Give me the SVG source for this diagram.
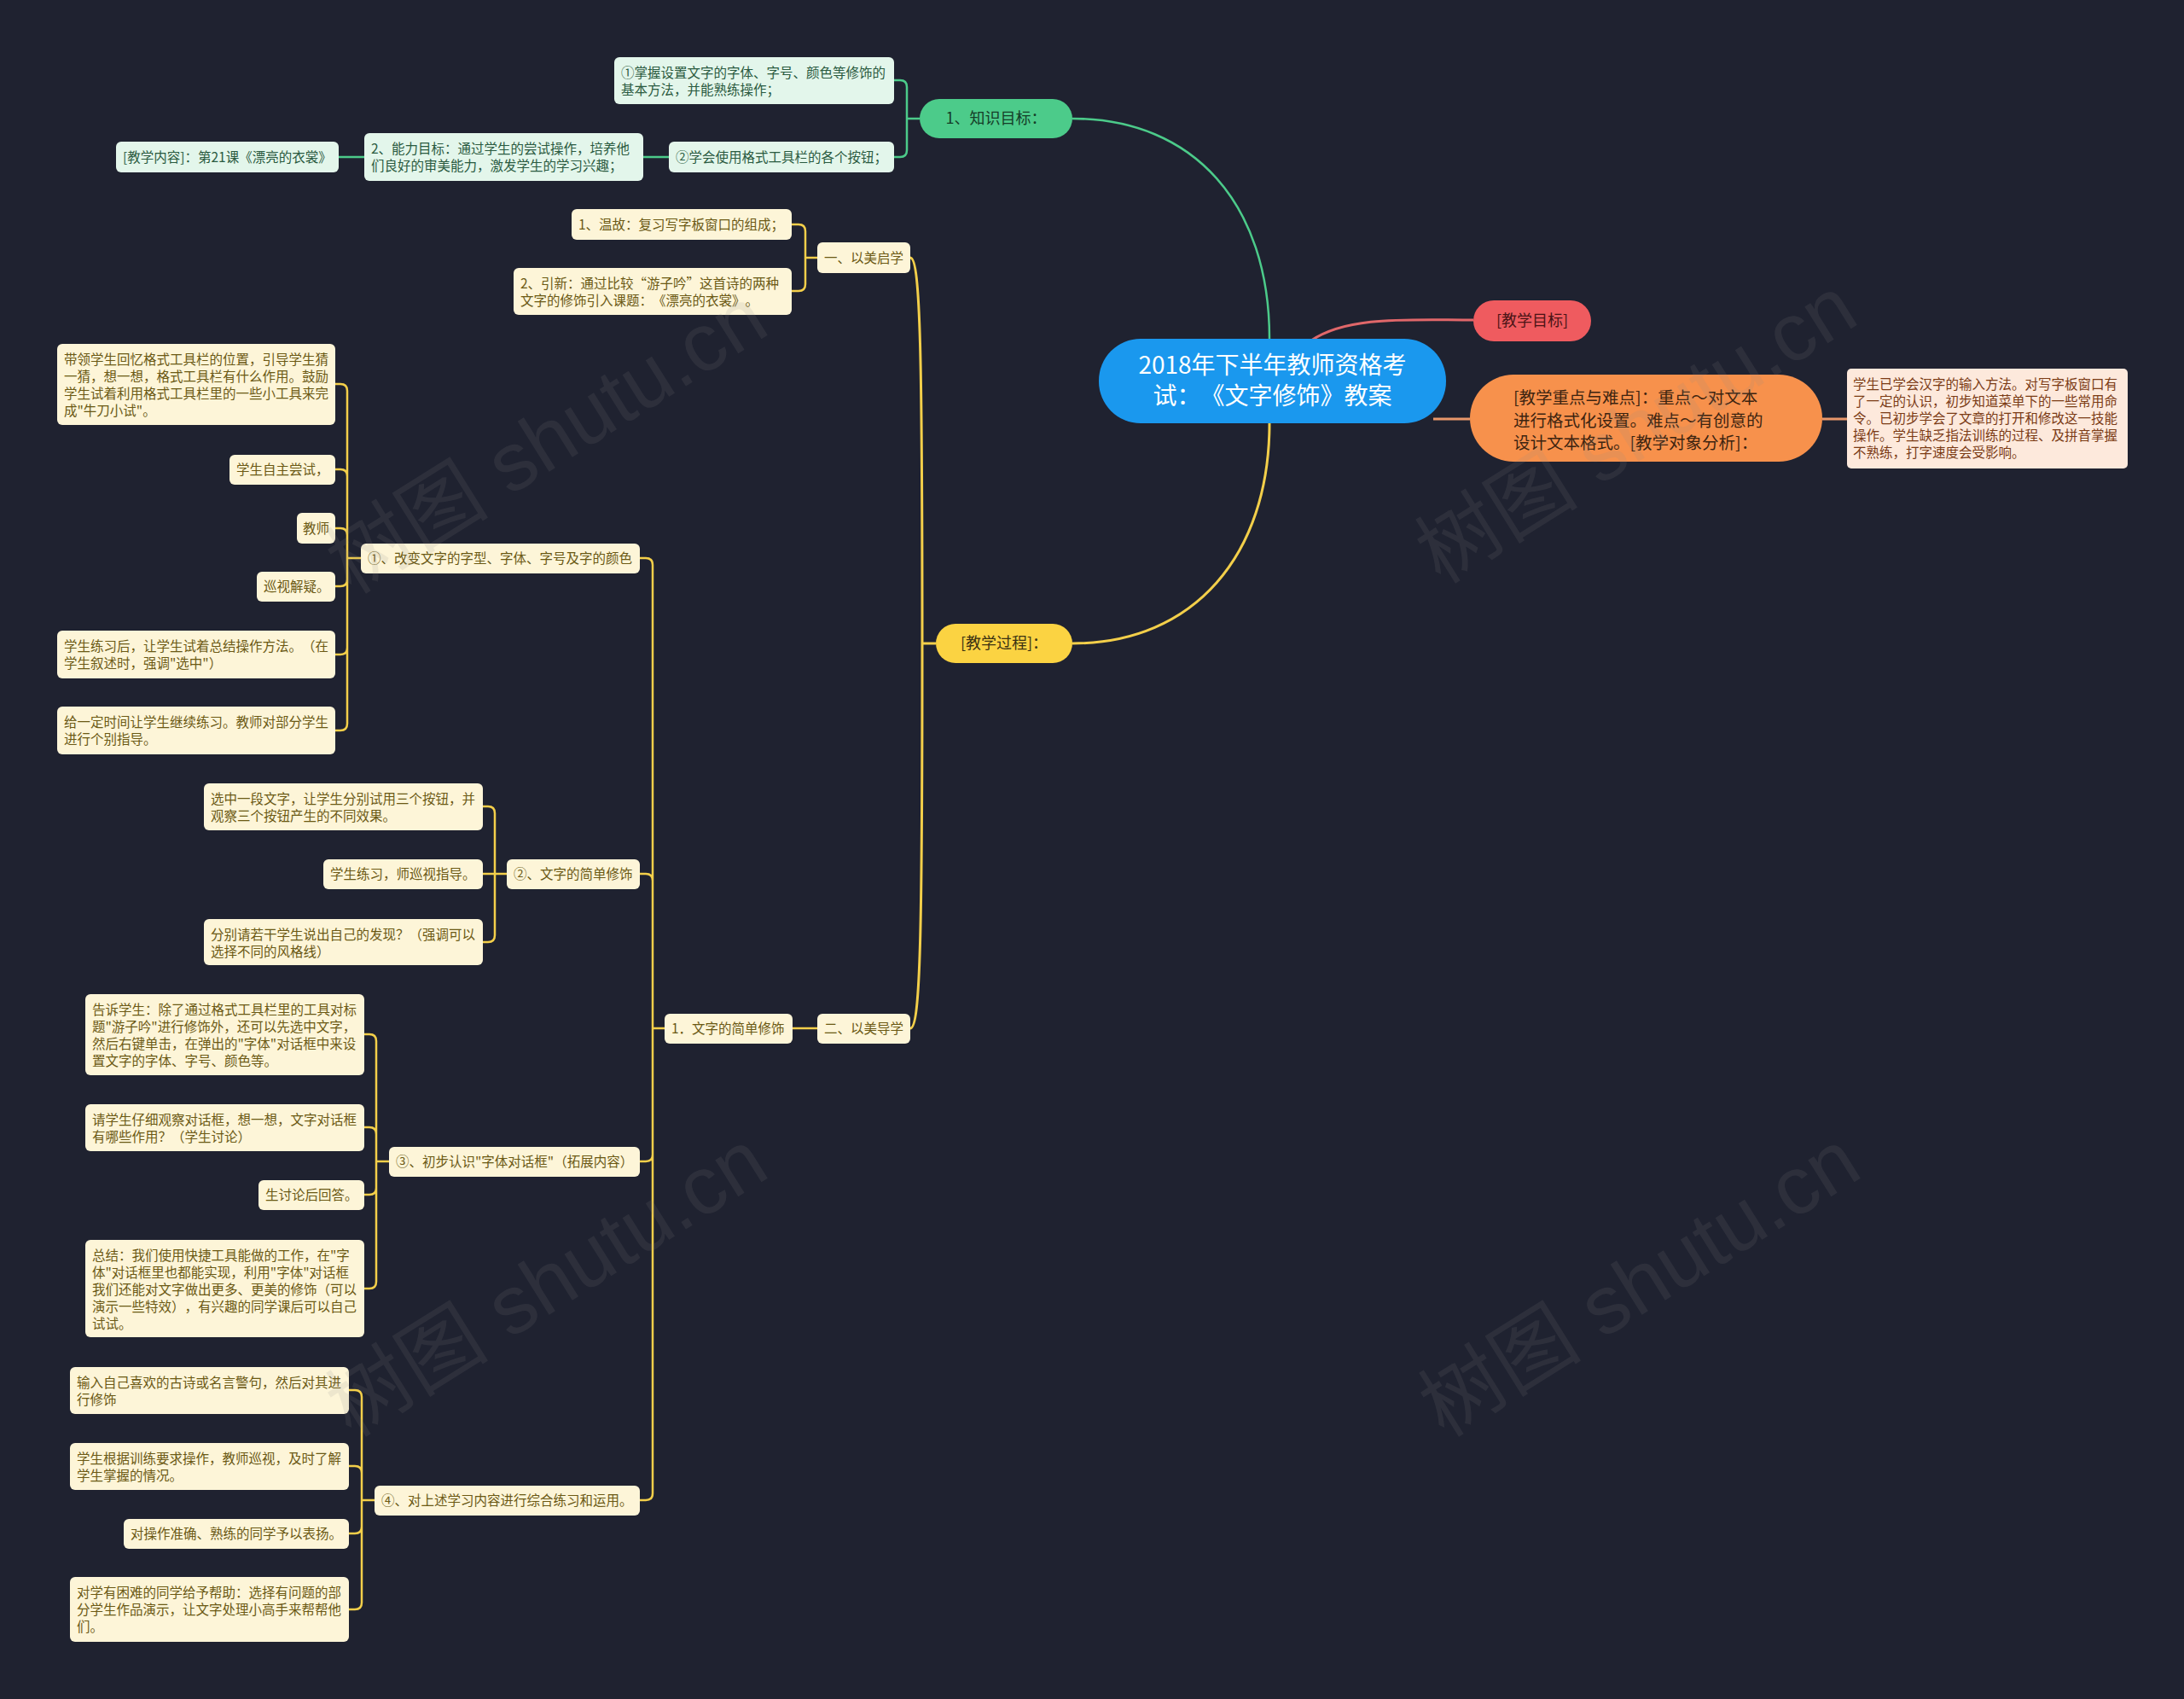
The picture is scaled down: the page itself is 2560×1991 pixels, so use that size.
<svg xmlns="http://www.w3.org/2000/svg" width="2560" height="1991" viewBox="0 0 2560 1991">
<style>
text{font-family:"Noto Sans CJK SC","Liberation Sans",sans-serif;text-spacing-trim:space-all;}
.bg{fill:#1f2230;}
.cy{fill:#fdf5d8;}
.ty{fill:#6b5914;font-size:15.5px;}
.cg{fill:#e3f6eb;}
.tg{fill:#2a5a40;font-size:15.5px;}
.ly{fill:none;stroke:#f3cf4a;stroke-width:2.5;}
.lg{fill:none;stroke:#4ccb8a;stroke-width:2.5;}
.wm{fill:#8a8a8a;opacity:0.13;font-size:96px;font-family:"Liberation Sans","Noto Sans CJK SC",sans-serif;}
</style>
<rect class="bg" x="0" y="0" width="2560" height="1991"/>

<g id="connectors">
<path class="lg" d="M1257,139 C1400,139 1488,240 1488,397"/>
<path d="M1257,754 C1400,754 1488,650 1488,496" fill="none" stroke="#f3cf4a" stroke-width="3"/>
<path d="M1537,399 C1580,370 1650,375 1727,375" fill="none" stroke="#e0676a" stroke-width="3"/>
<path d="M1680,491 L1723,491 M2136,491 L2165,491" fill="none" stroke="#e9976a" stroke-width="3"/>
<path class="lg" d="M1078,139 H1063 M1048,94 H1055 Q1063,94 1063,102 V139 M1048,184 H1055 Q1063,184 1063,176 V139 M784,184 H754 M427,184 H397"/>
<path d="M1097,754 H1081 M1081,754 C1081,420 1079,302 1067,302 M1081,754 C1081,1090 1079,1205 1067,1205" fill="none" stroke="#f3cf4a" stroke-width="3"/>
<path class="ly" d="M958,302 H944 M928,263 H936 Q944,263 944,271 V302 M928,341 H936 Q944,341 944,333 V302"/>
<path class="ly" d="M958,1205 H929"/>
<path class="ly" d="M779,1205 H765 M750,654 H757 Q765,654 765,662 V1205 M750,1024 H757 Q765,1024 765,1032 V1205 M750,1361 H757 Q765,1361 765,1353 V1205 M750,1758 H757 Q765,1758 765,1750 V1205"/>
<path class="ly" d="M423,654 H407 M393,450 H399 Q407,450 407,458 V654 M393,550 H399 Q407,550 407,558 V654 M393,619 H399 Q407,619 407,627 V654 M393,687 H399 Q407,687 407,679 V654 M393,767 H399 Q407,767 407,759 V654 M393,856 H399 Q407,856 407,848 V654"/>
<path class="ly" d="M594,1024 H566 M566,945 H572 Q580,945 580,953 V1024 M566,1104 H572 Q580,1104 580,1096 V1024"/>
<path class="ly" d="M456,1361 H441 M427,1212 H433 Q441,1212 441,1220 V1361 M427,1321 H433 Q441,1321 441,1329 V1361 M427,1400 H433 Q441,1400 441,1392 V1361 M427,1510 H433 Q441,1510 441,1502 V1361"/>
<path class="ly" d="M439,1758 H424 M409,1629 H416 Q424,1629 424,1637 V1758 M409,1718 H416 Q424,1718 424,1726 V1758 M409,1797 H416 Q424,1797 424,1789 V1758 M409,1886 H416 Q424,1886 424,1878 V1758"/>
</g>

<g id="root">
<rect x="1288" y="397" width="407" height="99" rx="49" fill="#1a98ee"/>
<text x="1491.5" y="438" text-anchor="middle" fill="#ffffff" font-size="28">2018年下半年教师资格考</text>
<text x="1491.5" y="474" text-anchor="middle" fill="#ffffff" font-size="28">试：《文字修饰》教案</text>
</g>

<g id="n-mubiao">
<rect x="1727" y="352" width="138" height="48" rx="24" fill="#ef5b5f"/>
<text x="1796" y="382" text-anchor="middle" fill="#4a1416" font-size="18">[教学目标]</text>
</g>

<g id="n-zhongdian">
<rect x="1723" y="439" width="413" height="102" rx="51" fill="#f7914c"/>
<text x="1774" y="473" fill="#3d2410" font-size="19.5">[教学重点与难点]：重点～对文本</text>
<text x="1774" y="500" fill="#3d2410" font-size="19.5">进行格式化设置。难点～有创意的</text>
<text x="1774" y="526" fill="#3d2410" font-size="19.5">设计文本格式。[教学对象分析]：</text>
</g>

<g id="n-duixiang">
<rect x="2165" y="432" width="329" height="117" rx="5" fill="#fde9dc"/>
<text x="2172" y="456" fill="#7b3b15" font-size="15.5">学生已学会汉字的输入方法。对写字板窗口有</text>
<text x="2172" y="476" fill="#7b3b15" font-size="15.5">了一定的认识，初步知道菜单下的一些常用命</text>
<text x="2172" y="496" fill="#7b3b15" font-size="15.5">令。已初步学会了文章的打开和修改这一技能</text>
<text x="2172" y="516" fill="#7b3b15" font-size="15.5">操作。学生缺乏指法训练的过程、及拼音掌握</text>
<text x="2172" y="536" fill="#7b3b15" font-size="15.5">不熟练，打字速度会受影响。</text>
</g>

<g id="n-zhishi">
<rect x="1078" y="116" width="179" height="46" rx="23" fill="#4ccb8a"/>
<text x="1167.5" y="145" text-anchor="middle" fill="#153d28" font-size="18">1、知识目标：</text>
</g>
<g id="n-zs1">
<rect class="cg" x="720" y="67" width="328" height="55" rx="6"/>
<text class="tg" x="728" y="91">①掌握设置文字的字体、字号、颜色等修饰的</text>
<text class="tg" x="728" y="111">基本方法，并能熟练操作；</text>
</g>
<g id="n-zs2">
<rect class="cg" x="784" y="166" width="264" height="36" rx="6"/>
<text class="tg" x="792" y="190">②学会使用格式工具栏的各个按钮；</text>
</g>
<g id="n-nengli">
<rect class="cg" x="427" y="156" width="327" height="56" rx="6"/>
<text class="tg" x="435" y="180">2、能力目标：通过学生的尝试操作，培养他</text>
<text class="tg" x="435" y="200">们良好的审美能力，激发学生的学习兴趣；</text>
</g>
<g id="n-neirong">
<rect class="cg" x="136" y="166" width="261" height="36" rx="6"/>
<text class="tg" x="144" y="190">[教学内容]：第21课《漂亮的衣裳》</text>
</g>

<g id="n-guocheng">
<rect x="1097" y="731" width="160" height="46" rx="23" fill="#fbd342"/>
<text x="1177" y="760" text-anchor="middle" fill="#3b3212" font-size="18">[教学过程]：</text>
</g>
<g id="n-qixue">
<rect class="cy" x="958" y="284" width="109" height="36" rx="6"/>
<text class="ty" x="966" y="308">一、以美启学</text>
</g>
<g id="n-wengu">
<rect class="cy" x="670" y="245" width="258" height="36" rx="6"/>
<text class="ty" x="678" y="269">1、温故：复习写字板窗口的组成；</text>
</g>
<g id="n-yinxin">
<rect class="cy" x="602" y="314" width="326" height="55" rx="6"/>
<text class="ty" x="610" y="338">2、引新：通过比较“游子吟”这首诗的两种</text>
<text class="ty" x="610" y="358">文字的修饰引入课题：《漂亮的衣裳》。</text>
</g>
<g id="n-daoxue">
<rect class="cy" x="958" y="1188" width="109" height="35" rx="6"/>
<text class="ty" x="966" y="1211">二、以美导学</text>
</g>
<g id="n-jiandan">
<rect class="cy" x="779" y="1188" width="150" height="35" rx="6"/>
<text class="ty" x="787" y="1211">1．文字的简单修饰</text>
</g>
<g id="n-s1">
<rect class="cy" x="423" y="637" width="327" height="35" rx="6"/>
<text class="ty" x="431" y="660">①、改变文字的字型、字体、字号及字的颜色</text>
</g>
<g id="n-s1a">
<rect class="cy" x="67" y="403" width="326" height="95" rx="6"/>
<text class="ty" x="75" y="427">带领学生回忆格式工具栏的位置，引导学生猜</text>
<text class="ty" x="75" y="447">一猜，想一想，格式工具栏有什么作用。鼓励</text>
<text class="ty" x="75" y="467">学生试着利用格式工具栏里的一些小工具来完</text>
<text class="ty" x="75" y="487">成"牛刀小试"。</text>
</g>
<g id="n-s1b">
<rect class="cy" x="269" y="533" width="124" height="35" rx="6"/>
<text class="ty" x="277" y="556">学生自主尝试，</text>
</g>
<g id="n-s1c">
<rect class="cy" x="348" y="601" width="45" height="36" rx="6"/>
<text class="ty" x="355" y="625">教师</text>
</g>
<g id="n-s1d">
<rect class="cy" x="301" y="670" width="92" height="35" rx="6"/>
<text class="ty" x="309" y="693">巡视解疑。</text>
</g>
<g id="n-s1e">
<rect class="cy" x="67" y="739" width="326" height="56" rx="6"/>
<text class="ty" x="75" y="763">学生练习后，让学生试着总结操作方法。（在</text>
<text class="ty" x="75" y="783">学生叙述时，强调"选中"）</text>
</g>
<g id="n-s1f">
<rect class="cy" x="67" y="828" width="326" height="56" rx="6"/>
<text class="ty" x="75" y="852">给一定时间让学生继续练习。教师对部分学生</text>
<text class="ty" x="75" y="872">进行个别指导。</text>
</g>
<g id="n-s2">
<rect class="cy" x="594" y="1007" width="156" height="35" rx="6"/>
<text class="ty" x="602" y="1030">②、文字的简单修饰</text>
</g>
<g id="n-s2a">
<rect class="cy" x="239" y="918" width="327" height="55" rx="6"/>
<text class="ty" x="247" y="942">选中一段文字，让学生分别试用三个按钮，并</text>
<text class="ty" x="247" y="962">观察三个按钮产生的不同效果。</text>
</g>
<g id="n-s2b">
<rect class="cy" x="379" y="1007" width="187" height="35" rx="6"/>
<text class="ty" x="387" y="1030">学生练习，师巡视指导。</text>
</g>
<g id="n-s2c">
<rect class="cy" x="239" y="1077" width="327" height="54" rx="6"/>
<text class="ty" x="247" y="1101">分别请若干学生说出自己的发现？（强调可以</text>
<text class="ty" x="247" y="1121">选择不同的风格线）</text>
</g>
<g id="n-s3">
<rect class="cy" x="456" y="1344" width="294" height="35" rx="6"/>
<text class="ty" x="464" y="1367">③、初步认识"字体对话框"（拓展内容）</text>
</g>
<g id="n-s3a">
<rect class="cy" x="100" y="1165" width="327" height="95" rx="6"/>
<text class="ty" x="108" y="1189">告诉学生：除了通过格式工具栏里的工具对标</text>
<text class="ty" x="108" y="1209">题"游子吟"进行修饰外，还可以先选中文字，</text>
<text class="ty" x="108" y="1229">然后右键单击，在弹出的"字体"对话框中来设</text>
<text class="ty" x="108" y="1249">置文字的字体、字号、颜色等。</text>
</g>
<g id="n-s3b">
<rect class="cy" x="100" y="1294" width="327" height="55" rx="6"/>
<text class="ty" x="108" y="1318">请学生仔细观察对话框，想一想，文字对话框</text>
<text class="ty" x="108" y="1338">有哪些作用？（学生讨论）</text>
</g>
<g id="n-s3c">
<rect class="cy" x="303" y="1383" width="124" height="35" rx="6"/>
<text class="ty" x="311" y="1406">生讨论后回答。</text>
</g>
<g id="n-s3d">
<rect class="cy" x="100" y="1453" width="327" height="114" rx="6"/>
<text class="ty" x="108" y="1477">总结：我们使用快捷工具能做的工作，在"字</text>
<text class="ty" x="108" y="1497">体"对话框里也都能实现，利用"字体"对话框</text>
<text class="ty" x="108" y="1517">我们还能对文字做出更多、更美的修饰（可以</text>
<text class="ty" x="108" y="1537">演示一些特效），有兴趣的同学课后可以自己</text>
<text class="ty" x="108" y="1557">试试。</text>
</g>
<g id="n-s4">
<rect class="cy" x="439" y="1741" width="311" height="35" rx="6"/>
<text class="ty" x="447" y="1764">④、对上述学习内容进行综合练习和运用。</text>
</g>
<g id="n-s4a">
<rect class="cy" x="82" y="1602" width="327" height="55" rx="6"/>
<text class="ty" x="90" y="1626">输入自己喜欢的古诗或名言警句，然后对其进</text>
<text class="ty" x="90" y="1646">行修饰</text>
</g>
<g id="n-s4b">
<rect class="cy" x="82" y="1691" width="327" height="55" rx="6"/>
<text class="ty" x="90" y="1715">学生根据训练要求操作，教师巡视，及时了解</text>
<text class="ty" x="90" y="1735">学生掌握的情况。</text>
</g>
<g id="n-s4c">
<rect class="cy" x="145" y="1780" width="264" height="35" rx="6"/>
<text class="ty" x="153" y="1803">对操作准确、熟练的同学予以表扬。</text>
</g>
<g id="n-s4d">
<rect class="cy" x="82" y="1848" width="327" height="76" rx="6"/>
<text class="ty" x="90" y="1872">对学有困难的同学给予帮助：选择有问题的部</text>
<text class="ty" x="90" y="1892">分学生作品演示，让文字处理小高手来帮帮他</text>
<text class="ty" x="90" y="1912">们。</text>
</g>

<g id="watermarks">
<text class="wm" transform="translate(645,522) rotate(-32)" text-anchor="middle" dominant-baseline="middle">树图 shutu.cn</text>
<text class="wm" transform="translate(1922,510) rotate(-32)" text-anchor="middle" dominant-baseline="middle">树图 shutu.cn</text>
<text class="wm" transform="translate(645,1510) rotate(-32)" text-anchor="middle" dominant-baseline="middle">树图 shutu.cn</text>
<text class="wm" transform="translate(1926,1510) rotate(-32)" text-anchor="middle" dominant-baseline="middle">树图 shutu.cn</text>
</g>
</svg>
